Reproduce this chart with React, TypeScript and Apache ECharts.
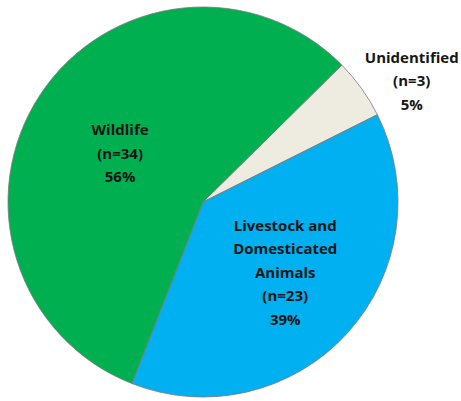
import React, { useEffect, useRef } from "react";
import * as echarts from "echarts";

const categories = ["Unidentified", "Livestock and\nDomesticated\nAnimals", "Wildlife"];
const counts = [3, 23, 34];
const percentLabels = ["5%", "39%", "56%"];
const colors = ["#EEECE1", "#00B0F0", "#00B050"];
const labelOffsets: [number, number][] = [
  [127, -63],
  [8, 2],
  [1, 6],
];

export default function App() {
  const ref = useRef<HTMLDivElement>(null);
  useEffect(() => {
    if (!ref.current) return;
    const chart = echarts.init(ref.current, undefined, { renderer: "svg" });
    chart.setOption({
      animation: false,
      backgroundColor: "#ffffff",
      series: [
        {
          type: "pie",
          center: [203, 202],
          radius: 195,
          startAngle: 44.6,
          clockwise: true,
          avoidLabelOverlap: false,
          labelLine: { show: false },
          itemStyle: { borderColor: "#7a7a7a", borderWidth: 0.8 },
          emphasis: { disabled: true },
          data: categories.map((name, i) => ({
            name,
            value: counts[i],
            itemStyle: { color: colors[i] },
            label: {
              show: true,
              position: "inside",
              offset: labelOffsets[i],
              formatter: `${name}\n(n=${counts[i]})\n${percentLabels[i]}`,
              fontFamily: "Open Sans",
              fontWeight: "bold",
              fontSize: 15,
              lineHeight: 23.5,
              color: "#161616",
              align: "center",
            },
          })),
        },
      ],
    });
    return () => chart.dispose();
  }, []);
  return (
    <div
      ref={ref}
      style={{ position: "absolute", left: 0, top: 0, width: 461, height: 401 }}
    />
  );
}
